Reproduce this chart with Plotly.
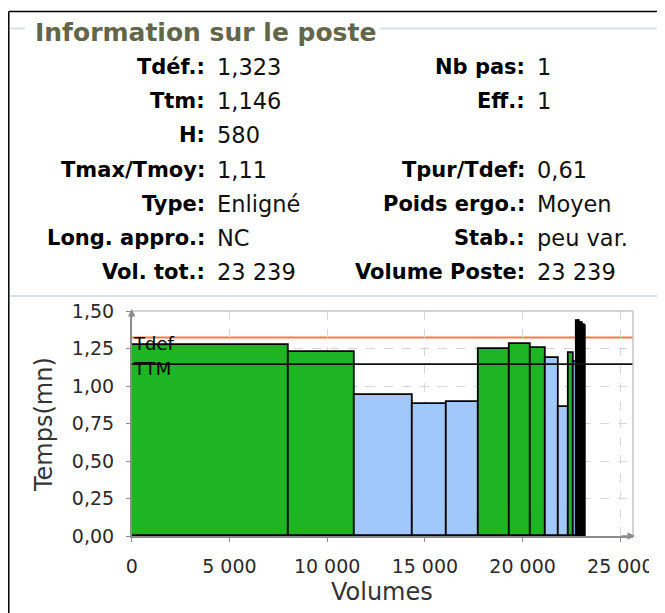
import plotly.graph_objects as go

# ---------------- data ----------------
bar_widths = [8025, 3388, 2973, 1740, 1628, 1571, 1084, 768, 655, 537, 231, 174,
              80, 75, 80, 75, 80, 75]
bar_heights = [1.275, 1.230, 0.942, 0.882, 0.896, 1.245, 1.278, 1.256, 1.184, 0.858, 1.218, 1.162,
               1.435, 1.432, 1.420, 1.418, 1.405, 1.400]
bar_kinds = ["G", "G", "B", "B", "B", "G", "G", "G", "B", "B", "G", "B",
             "K", "K", "K", "K", "K", "K"]
tdef_value = 1.323
ttm_value = 1.146
x_ticks = [0, 5000, 10000, 15000, 20000, 25000]
y_ticks = [0, 0.25, 0.5, 0.75, 1.0, 1.25, 1.5]

info_left = [("Tdéf.:", "1,323"), ("Ttm:", "1,146"), ("H:", "580"), ("Tmax/Tmoy:", "1,11"),
             ("Type:", "Enligné"), ("Long. appro.:", "NC"), ("Vol. tot.:", "23 239")]
info_right = [("Nb pas:", "1"), ("Eff.:", "1"), ("", ""), ("Tpur/Tdef:", "0,61"),
              ("Poids ergo.:", "Moyen"), ("Stab.:", "peu var."), ("Volume Poste:", "23 239")]

# ---------------- geometry helpers ----------------
# the page body has an 8px margin: the figure starts at (8, 8) in the window
OFF = 8
W, H = 665 - OFF, 613 - OFF
def px(x):
    return (x - OFF) / W
def py(y):
    return 1 - (y - OFF) / H

kind_color = {"G": "#1db524", "B": "#a0c8fa", "K": "#000000"}
starts = []
acc = 0
for w in bar_widths:
    starts.append(acc)
    acc += w

fig = go.Figure()
fig.add_trace(go.Bar(
    x=starts, y=bar_heights, width=bar_widths, offset=0,
    marker=dict(color=[kind_color[k] for k in bar_kinds],
                line=dict(color="#000000", width=1.8)),
    hoverinfo="skip", showlegend=False,
))

x_left, x_right = 131.7, 633
y_top, y_bot = 311, 536

font_tick = dict(family="DejaVu Sans", size=19, color="#2a2a2a")

fig.update_layout(
    template="none",
    width=W, height=H, autosize=False,
    margin=dict(l=0, r=0, t=0, b=0),
    paper_bgcolor="white", plot_bgcolor="white",
    separators=", ",
    bargap=0, barmode="overlay",
    xaxis=dict(domain=[px(x_left), px(x_right)], range=[0, 25650],
               tickvals=x_ticks, tickformat=",d", tickfont=font_tick,
               showgrid=True, gridcolor="#d6d6d6", griddash="dash", gridwidth=1,
               zeroline=False, showline=True, linecolor="#8c8c8c", linewidth=1.5,
               ticks="outside", ticklen=4, tickcolor="#8c8c8c",
               ticklabelstandoff=8, automargin=False, fixedrange=True),
    yaxis=dict(domain=[py(y_bot), py(y_top)], range=[0, 1.5],
               tickvals=y_ticks, tickformat=".2f", tickfont=font_tick,
               showgrid=True, gridcolor="#d6d6d6", griddash="dash", gridwidth=1,
               zeroline=False, showline=True, linecolor="#8c8c8c", linewidth=1.5,
               ticks="outside", ticklen=4, tickcolor="#8c8c8c",
               ticklabelstandoff=8, automargin=False, fixedrange=True),
)

shapes = []
# reference lines
shapes.append(dict(type="line", xref="x domain", yref="y", x0=0, x1=1,
                   y0=tdef_value, y1=tdef_value, line=dict(color="#ff7a3c", width=2),
                   layer="below"))
shapes.append(dict(type="line", xref="x domain", yref="y", x0=0, x1=1,
                   y0=ttm_value, y1=ttm_value, line=dict(color="#111111", width=1.8),
                   layer="above"))
# plot frame top/right
shapes.append(dict(type="line", xref="x domain", yref="y domain", x0=0, x1=1, y0=1, y1=1,
                   line=dict(color="#c4c4c4", width=1.5), layer="above"))
shapes.append(dict(type="line", xref="x domain", yref="y domain", x0=1, x1=1, y0=0, y1=1,
                   line=dict(color="#c4c4c4", width=1.5), layer="above"))

# outer black frame
shapes.append(dict(type="line", xref="paper", yref="paper", x0=px(8.8), x1=px(8.8), y0=py(11.5), y1=0,
                   line=dict(color="#000", width=1.5)))
shapes.append(dict(type="line", xref="paper", yref="paper", x0=px(8.8), x1=1, y0=py(11.5), y1=py(11.5),
                   line=dict(color="#000", width=1.5)))

# fieldset border (rounded)
def P(x, y):
    return f"{px(x):.5f},{py(y):.5f}"
path = (f"M{P(25, 28.5)} L{P(10.5, 28.5)} "
        f"M{P(380, 28.5)} L{P(656, 28.5)} Q{P(662, 28.5)} {P(662, 34.5)} "
        f"L{P(662, 290)} Q{P(662, 296)} {P(656, 296)} L{P(10.5, 296)}")
shapes.append(dict(type="path", xref="paper", yref="paper", path=path,
                   line=dict(color="#d8e0e8", width=2)))
# mask for clipped last tick label
shapes.append(dict(type="rect", xref="paper", yref="paper", x0=px(649), x1=1,
                   y0=py(575), y1=py(545), fillcolor="white", line=dict(width=0),
                   layer="above"))
fig.update_layout(shapes=shapes)

ann = []
# axis arrows
ann.append(dict(x=px(635), y=py(536), ax=-15, ay=0, xref="paper", yref="paper",
                text="", showarrow=True, arrowhead=2,
                arrowsize=1, arrowwidth=1.5, arrowcolor="#8c8c8c"))
ann.append(dict(x=px(131.7), y=py(309), ax=0, ay=11, xref="paper", yref="paper",
                text="", showarrow=True, arrowhead=2,
                arrowsize=1, arrowwidth=1.5, arrowcolor="#8c8c8c"))
# line labels
ann.append(dict(x=0, y=tdef_value, xref="x", yref="y", text="Tdef", showarrow=False,
                xanchor="left", yanchor="middle", yshift=-6, xshift=-1,
                font=dict(family="DejaVu Sans", size=18, color="#000")))
ann.append(dict(x=0, y=ttm_value, xref="x", yref="y", text="TTM", showarrow=False,
                xanchor="left", yanchor="middle", yshift=-4, xshift=-1,
                font=dict(family="DejaVu Sans", size=18, color="#000")))
# axis titles
ann.append(dict(x=px(382), y=py(592), xref="paper", yref="paper", text="Volumes",
                showarrow=False, xanchor="center", yanchor="middle",
                font=dict(family="DejaVu Sans", size=24, color="#333")))
ann.append(dict(x=px(44), y=py(425), xref="paper", yref="paper", text="Temps(mn)",
                showarrow=False, xanchor="center", yanchor="middle", textangle=-90,
                font=dict(family="DejaVu Sans", size=24, color="#333")))
# panel title
ann.append(dict(x=px(33), y=py(33), xref="paper", yref="paper",
                text="<b>Information sur le poste</b>", showarrow=False,
                xanchor="left", yanchor="middle",
                font=dict(family="DejaVu Sans", size=25, color="#62674a")))
# info rows
row_y = [67, 101, 135, 170, 204, 238, 272]
fl = dict(family="DejaVu Sans", size=21, color="#000")
fv = dict(family="DejaVu Sans", size=22.5, color="#111")
for (lab, val), yy in zip(info_left, row_y):
    if lab:
        ann.append(dict(x=px(206.5), y=py(yy), xref="paper", yref="paper", text=f"<b>{lab}</b>",
                        showarrow=False, xanchor="right", yanchor="middle", font=fl))
        ann.append(dict(x=px(215), y=py(yy), xref="paper", yref="paper", text=val,
                        showarrow=False, xanchor="left", yanchor="middle", font=fv))
for (lab, val), yy in zip(info_right, row_y):
    if lab:
        ann.append(dict(x=px(527), y=py(yy), xref="paper", yref="paper", text=f"<b>{lab}</b>",
                        showarrow=False, xanchor="right", yanchor="middle", font=fl))
        ann.append(dict(x=px(535), y=py(yy), xref="paper", yref="paper", text=val,
                        showarrow=False, xanchor="left", yanchor="middle", font=fv))
fig.update_layout(annotations=ann)

fig.write_html("out.html", config={"displayModeBar": False})
